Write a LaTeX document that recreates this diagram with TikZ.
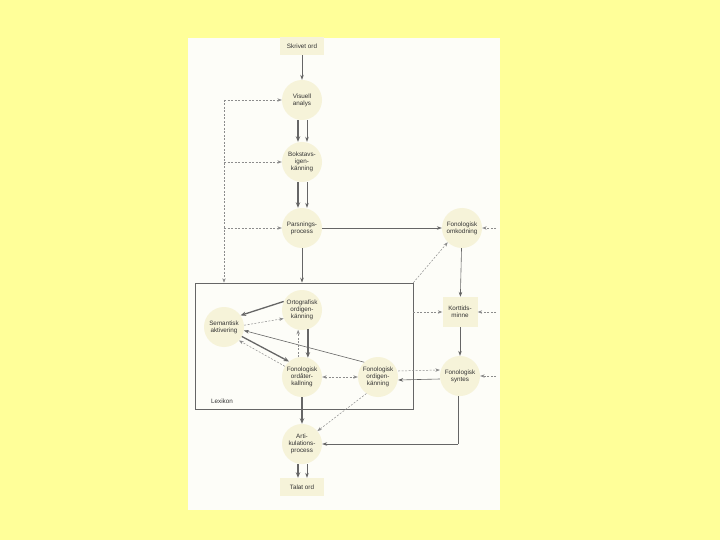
\documentclass[tikz,border=0pt]{standalone}
\usepackage{fontspec}
\setmainfont{Liberation Sans}
\usetikzlibrary{arrows.meta}
\definecolor{bgyellow}{HTML}{FFFF99}
\definecolor{pagecol}{HTML}{FDFDF8}
\definecolor{circfill}{HTML}{F6F3D9}
\definecolor{linecol}{HTML}{666666}
\definecolor{dashcol}{HTML}{8C8C8C}
\definecolor{textcol}{HTML}{333333}
\begin{document}
\begin{tikzpicture}[x=1pt,y=-1pt,
  circ/.style={circle, fill=circfill, minimum size=40pt, inner sep=0pt, align=center,
    font=\fontsize{6.3}{7.2}\selectfont, text=textcol},
  boxn/.style={rectangle, fill=circfill, minimum width=44pt, minimum height=18pt, inner sep=0pt,
    align=center, font=\fontsize{6.3}{7.2}\selectfont, text=textcol},
  sol/.style={draw=linecol, line width=0.6pt, -{Stealth[length=5pt,width=3.6pt]}},
  solthick/.style={draw=linecol, line width=1.3pt, -{Stealth[length=5.5pt,width=4.4pt]}},
  dsh/.style={draw=dashcol, line width=0.5pt, dash pattern=on 2pt off 1.5pt, -{Stealth[length=4.5pt,width=3.4pt]}},
  dshboth/.style={draw=dashcol, line width=0.5pt, dash pattern=on 2pt off 1.5pt, {Stealth[length=4.5pt,width=3.4pt]}-{Stealth[length=4.5pt,width=3.4pt]}},
  thinline/.style={draw=linecol, line width=0.6pt},
]
\fill[bgyellow] (0,0) rectangle (720,540);
\useasboundingbox (0,0) rectangle (720,540);
\fill[pagecol] (188,38) rectangle (500,510);

% Lexikon box
\node[draw=linecol, line width=0.7pt, rectangle, minimum width=218pt, minimum height=126pt, inner sep=0pt] (lex) at (304,346) {};
\node[font=\fontsize{6.3}{7.2}\selectfont, text=textcol] (lexlabel) at (222,401) {Lexikon};

% nodes
\node[boxn] (skrivet) at (302,46) {Skrivet ord};
\node[circ] (visuell) at (302,100) {Visuell\\analys};
\node[circ] (bokstav) at (302,162) {Bokstavs-\\igen-\\känning};
\node[circ] (pars) at (302,228) {Parsnings-\\process};
\node[circ] (omk) at (462,228) {Fonologisk\\omkodning};
\node[circ] (orto) at (302,310) {Ortografisk\\ordigen-\\känning};
\node[circ] (sem) at (224,327) {Semantisk\\aktivering};
\node[circ] (ordat) at (302,377) {Fonologisk\\ordåter-\\kallning};
\node[circ] (ordig) at (378,377) {Fonologisk\\ordigen-\\känning};
\node[boxn, minimum width=35pt, minimum height=30pt] (kort) at (460,312) {Korttids-\\minne};
\node[circ] (syntes) at (460,376) {Fonologisk\\syntes};
\node[circ] (artik) at (302,444) {Arti-\\kulations-\\process};
\node[boxn] (talat) at (302,487) {Talat ord};

% main vertical flow
\draw[sol] (skrivet) -- (visuell);
\draw[solthick] ([xshift=-4pt]visuell.south) -- ([xshift=-4pt]bokstav.north);
\draw[sol] ([xshift=5pt]visuell.south) -- ([xshift=5pt]bokstav.north);
\draw[solthick] ([xshift=-4pt]bokstav.south) -- ([xshift=-4pt]pars.north);
\draw[sol] ([xshift=5pt]bokstav.south) -- ([xshift=5pt]pars.north);
\draw[sol, line width=0.9pt] (pars.south) -- (pars.south |- lex.north);
\draw[sol] (pars.east) -- (omk.west);
\draw[solthick] ([xshift=-4pt]artik.south) -- ([xshift=-4pt]talat.north);
\draw[sol] ([xshift=5pt]artik.south) -- ([xshift=5pt]talat.north);

% left dashed feedback
\coordinate (ltop) at (224,100);
\draw[dsh] (ltop) -- (ltop |- lex.north);
\draw[dsh] (ltop) -- (visuell.west);
\draw[dsh] (224,162) -- (bokstav.west);
\draw[dsh] (224,228) -- (pars.west);

% right column
\draw[sol] (omk) -- (kort);
\draw[sol] (kort) -- (syntes);
\coordinate (rin1) at (496,228);
\coordinate (rin2) at (496,312);
\coordinate (rin3) at (496,376);
\draw[dsh] (rin1) -- (omk.east);
\draw[dsh] (rin2) -- (kort.east);
\draw[dsh] (rin3) -- (syntes.east);
\draw[dsh] (lex.north east) -- (omk.225);
\draw[dsh] (lex.east |- kort.west) -- (kort.west);

% lexikon internal
\draw[solthick] (orto.155) -- (sem.35);
\draw[dsh] (sem.5) -- (orto.205);
\draw[solthick] (orto.-73) -- (ordat.73);
\draw[dsh] (ordat.101) -- (orto.-101);
\draw[solthick] (sem.-28) -- (ordat.130);
\draw[dsh] (ordat.148) -- (sem.-42);
\draw[sol] (ordig.133) -- (sem.-10);
\draw[dshboth] (ordat.east) -- (ordig.west);
\draw[solthick] (ordat.south) -- (artik.north);
\draw[dsh] (ordig.-125) -- (artik.40);

% syntes links
\draw[dsh] ([yshift=6pt]ordig.east) -- ([yshift=6pt]syntes.west);
\draw[sol] ([yshift=-3pt]syntes.west) -- ([yshift=-3pt]ordig.east);
\coordinate (sc) at (458,444);
\draw[thinline] ([xshift=-2pt]syntes.south) -- (sc);
\draw[sol] (sc) -- (artik.east);
\end{tikzpicture}
\end{document}
